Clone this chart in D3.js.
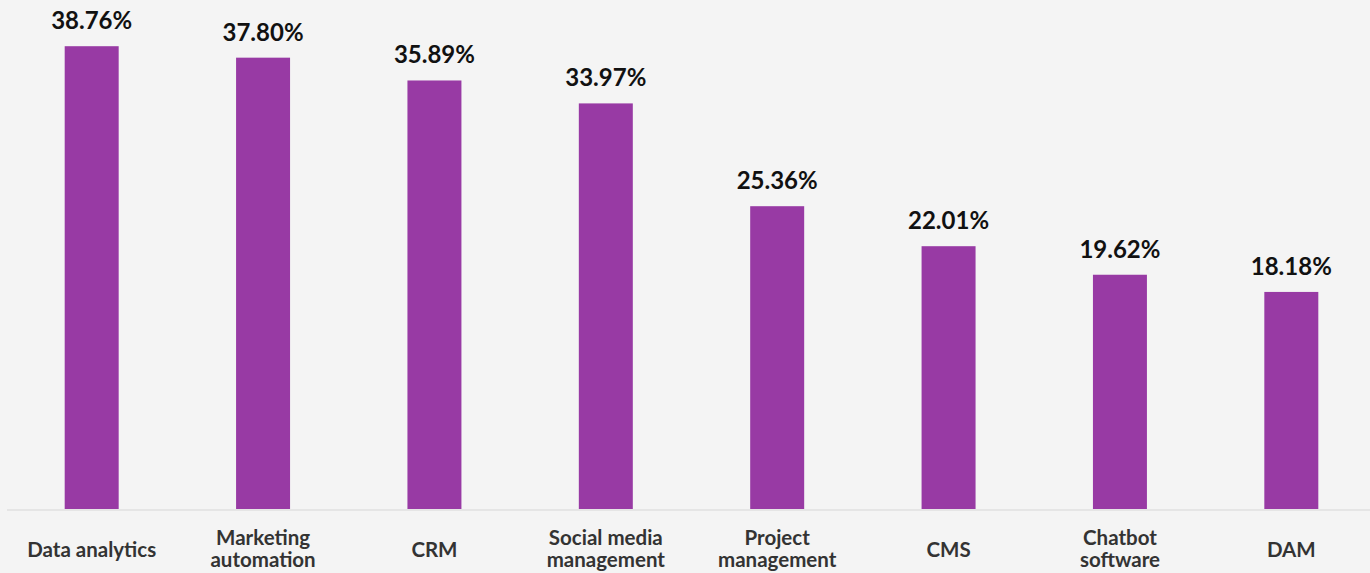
<!DOCTYPE html>
<html>
<head>
<meta charset="utf-8">
<script src="https://cdn.jsdelivr.net/npm/d3@7"></script>
<style>
  html, body { margin: 0; padding: 0; background: #f4f4f4; }
  svg { display: block; }
</style>
</head>
<body>
<svg id="chart" width="1370" height="573"></svg>
<script>
// Share of respondents using each tool category
const categories = [
  ["Data analytics"],
  ["Marketing", "automation"],
  ["CRM"],
  ["Social media", "management"],
  ["Project", "management"],
  ["CMS"],
  ["Chatbot", "software"],
  ["DAM"]
];
const values = [38.76, 37.80, 35.89, 33.97, 25.36, 22.01, 19.62, 18.18];
const valueLabels = ["38.76%", "37.80%", "35.89%", "33.97%", "25.36%", "22.01%", "19.62%", "18.18%"];

const width = 1370, height = 573;
const baseY = 509;
const svg = d3.select("#chart");

svg.append("rect").attr("width", width).attr("height", height).attr("fill", "#f4f4f4");

const keys = categories.map(c => c.join(" "));

const x = d3.scaleBand()
  .domain(keys)
  .range([6, 1377])
  .paddingInner(0.685)
  .paddingOuter(0.3425);

const y = d3.scaleLinear()
  .domain([0, 42.63])
  .range([baseY, 0]);

// bars
svg.append("g")
  .selectAll("rect")
  .data(values)
  .join("rect")
  .attr("x", (d, i) => x(keys[i]))
  .attr("width", x.bandwidth())
  .attr("y", d => y(d))
  .attr("height", d => y(0) - y(d))
  .attr("fill", "#983aa4");

// baseline
svg.append("line")
  .attr("x1", 7).attr("x2", width)
  .attr("y1", baseY + 1).attr("y2", baseY + 1)
  .attr("stroke", "#e0e0e0")
  .attr("stroke-width", 1.5);

// value labels
svg.append("g")
  .selectAll("text")
  .data(values)
  .join("text")
  .attr("x", (d, i) => x(keys[i]) + x.bandwidth() / 2)
  .attr("y", d => y(d) - 17)
  .attr("text-anchor", "middle")
  .attr("font-family", "Lato, 'Open Sans', sans-serif")
  .attr("font-weight", 700)
  .attr("font-size", 24)
  .attr("fill", "#111")
  .text((d, i) => valueLabels[i]);

// category labels
const cat = svg.append("g")
  .selectAll("text")
  .data(categories)
  .join("text")
  .attr("x", (d, i) => x(keys[i]) + x.bandwidth() / 2)
  .attr("y", d => d.length === 1 ? 557 : 545)
  .attr("text-anchor", "middle")
  .attr("font-family", "Lato, 'Open Sans', sans-serif")
  .attr("font-weight", 700)
  .attr("font-size", 20.5)
  .attr("fill", "#333");

cat.selectAll("tspan")
  .data(d => d)
  .join("tspan")
  .attr("x", function () { return d3.select(this.parentNode).attr("x"); })
  .attr("dy", (d, i) => i === 0 ? 0 : 22)
  .text(d => d);
</script>
</body>
</html>
